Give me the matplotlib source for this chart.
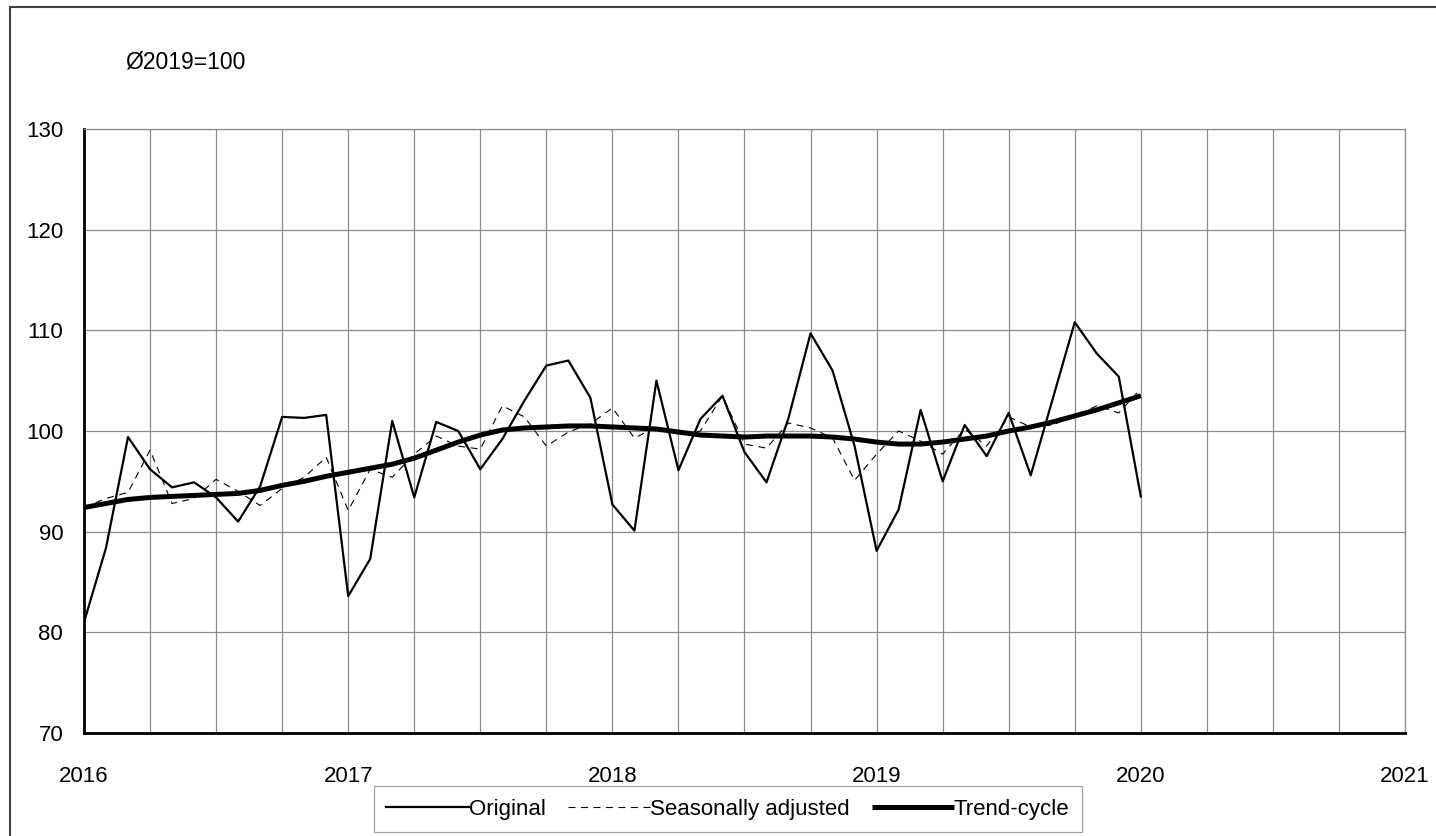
import numpy as np
import matplotlib
matplotlib.use("Agg")
import matplotlib.pyplot as plt
from matplotlib.patches import Rectangle

plt.rcParams['font.family'] = ['Liberation Sans', 'DejaVu Sans']
plt.rcParams['lines.scale_dashes'] = False

# monthly values Jan 2016 .. Jan 2020, index 2019 = 100
original = [81.0, 88.4, 99.4, 96.2, 94.4, 94.9, 93.4, 91.0, 94.5, 101.4, 101.3, 101.6,
            83.6, 87.3, 101.0, 93.4, 100.9, 100.0, 96.2, 99.2, 103.0, 106.5, 107.0, 103.3,
            92.7, 90.1, 105.0, 96.1, 101.2, 103.5, 97.9, 94.9, 101.3, 109.7, 106.0, 98.5,
            88.1, 92.2, 102.1, 95.0, 100.6, 97.5, 101.8, 95.6, 103.2, 110.8, 107.7, 105.4,
            93.5]
seasonal = [92.4, 93.3, 93.9, 98.1, 92.8, 93.3, 95.2, 94.0, 92.6, 94.3, 95.4, 97.4,
            92.1, 96.2, 95.4, 97.7, 99.5, 98.5, 98.2, 102.5, 101.4, 98.5, 99.9, 100.7,
            102.3, 99.3, 100.4, 99.7, 100.0, 103.5, 98.7, 98.3, 100.8, 100.3, 99.3, 95.1,
            97.7, 100.0, 99.0, 97.7, 100.2, 98.5, 101.4, 100.4, 100.6, 101.5, 102.5, 101.8,
            104.2]
trend = [92.4, 92.8, 93.2, 93.4, 93.5, 93.6, 93.7, 93.8, 94.1, 94.6, 95.0, 95.5,
         95.9, 96.3, 96.7, 97.3, 98.1, 98.9, 99.6, 100.1, 100.3, 100.4, 100.5, 100.5,
         100.4, 100.3, 100.2, 99.9, 99.6, 99.5, 99.4, 99.5, 99.5, 99.5, 99.4, 99.2,
         98.9, 98.7, 98.7, 98.9, 99.2, 99.5, 100.0, 100.4, 100.9, 101.5, 102.1, 102.8,
         103.5]
start_year = 2016
years = [2016, 2017, 2018, 2019, 2020, 2021]
y_ticks = [70, 80, 90, 100, 110, 120, 130]

x = start_year + np.arange(len(original)) / 12.0

W, H = 1436, 836
FS = 16
fig = plt.figure(figsize=(W / 100, H / 100), dpi=100)
ax = fig.add_axes([84 / W, 1 - 733 / H, (1405 - 84) / W, (733 - 129) / H])

ax.plot(x, original, color='black', lw=1.6, label='Original', zorder=3)
ax.plot(x, seasonal, color='black', lw=0.8, dashes=(5, 4), label='Seasonally adjusted', zorder=3)
ax.plot(x, trend, color='black', lw=3.6, label='Trend-cycle', zorder=4, solid_capstyle='butt')

ax.set_xlim(years[0], years[-1])
ax.set_ylim(y_ticks[0], y_ticks[-1])
ax.set_xticks(years)
ax.set_xticks(np.arange(years[0], years[-1] + 0.01, 0.25), minor=True)
ax.set_yticks(y_ticks)
ax.grid(True, which='both', axis='x', color='#8c8c8c', lw=0.9)
ax.grid(True, which='major', axis='y', color='#8c8c8c', lw=0.9)
ax.set_axisbelow(True)

ax.tick_params(which='both', length=0)
ax.tick_params(axis='x', pad=24, labelsize=FS)
ax.tick_params(axis='y', pad=15, labelsize=FS)

for side in ['top', 'right']:
    ax.spines[side].set_color('#8c8c8c')
    ax.spines[side].set_linewidth(0.9)
for side in ['left', 'bottom']:
    ax.spines[side].set_color('black')
    ax.spines[side].set_linewidth(2)

fig.text(125 / W, 1 - 62 / H, 'Ø2019=100', fontsize=FS + 0.5, va='center', ha='left')

leg = fig.legend(loc='center', bbox_to_anchor=(728 / W, 1 - 809 / H), ncol=3,
                 fontsize=FS, frameon=True, fancybox=False, edgecolor='#8c8c8c',
                 handlelength=3.7, handletextpad=0.0, columnspacing=1.0,
                 borderpad=0.55)
leg.get_frame().set_linewidth(0.9)

fig.patches.append(Rectangle((10 / W, -0.1), 1.2, 1 - 7 / H + 0.1, fill=False,
                             edgecolor='#404040', lw=1.5, transform=fig.transFigure))

fig.savefig('out.png', dpi=100)
